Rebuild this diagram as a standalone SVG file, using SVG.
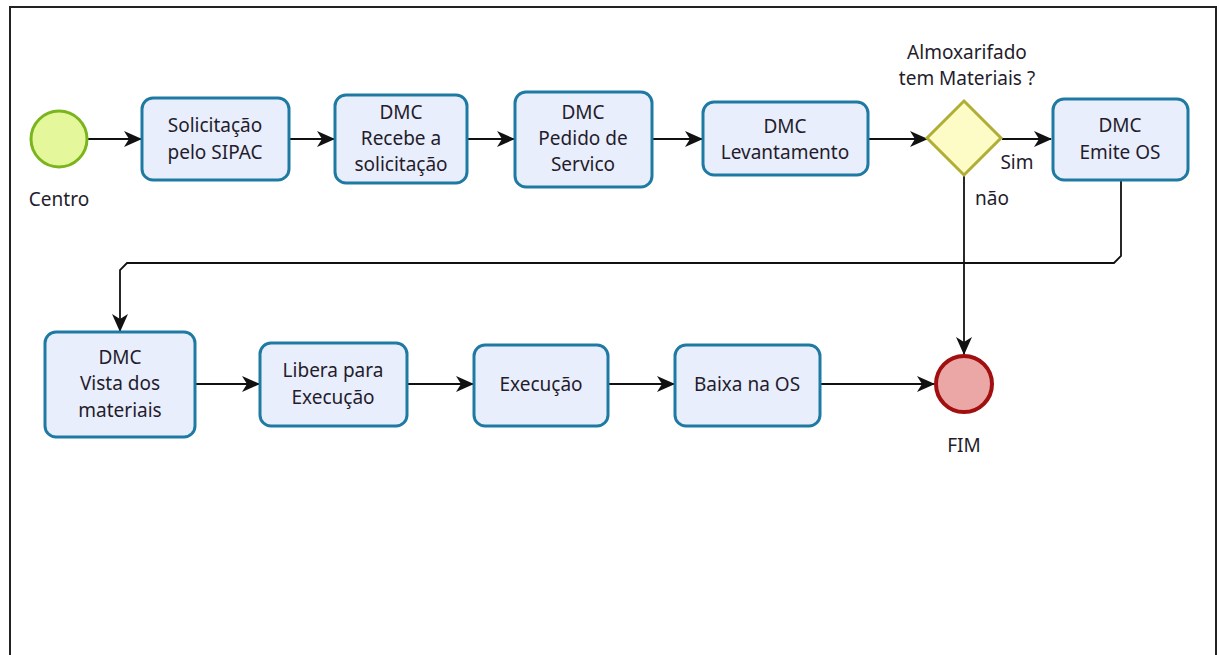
<svg xmlns="http://www.w3.org/2000/svg" width="1219" height="655" viewBox="0 0 1219 655">
  <style>
    .task { fill: #e9eefc; stroke: #1f7aa3; stroke-width: 3; }
    .lbl { font-family: "Noto Sans", "Open Sans", sans-serif; font-size: 19px; fill: #241c2c; text-anchor: middle; }
    .edge { fill: none; stroke: #111; stroke-width: 1.8; }
  </style>
  <defs>
    <marker id="arrow" viewBox="0 0 18 18" refX="17" refY="9" markerWidth="18" markerHeight="18" markerUnits="userSpaceOnUse" orient="auto">
      <path d="M0,1 L18,9 L0,17 L5,9 Z" fill="#111"/>
    </marker>
  </defs>

  <rect x="0" y="0" width="1219" height="655" fill="#fff"/>
  <!-- frame -->
  <path d="M10,660 L10,7 L1216,7 L1216,660" fill="none" stroke="#222" stroke-width="2"/>

  <!-- connectors -->
  <g id="connectors">
    <path class="edge" d="M88,139 L141,139" marker-end="url(#arrow)"/>
    <path class="edge" d="M289,139 L334,139" marker-end="url(#arrow)"/>
    <path class="edge" d="M467,139 L514,139" marker-end="url(#arrow)"/>
    <path class="edge" d="M652,139 L702,139" marker-end="url(#arrow)"/>
    <path class="edge" d="M868,139 L927,139" marker-end="url(#arrow)"/>
    <path class="edge" d="M1002,139 L1051,139" marker-end="url(#arrow)"/>
    <path class="edge" d="M1121,180 L1121,256 L1114,263 L127,263 L120,270 L120,331" marker-end="url(#arrow)"/>
    <path class="edge" d="M964,175 L964,354" marker-end="url(#arrow)"/>
    <path class="edge" d="M195,384 L259,384" marker-end="url(#arrow)"/>
    <path class="edge" d="M407,384 L473,384" marker-end="url(#arrow)"/>
    <path class="edge" d="M608,384 L674,384" marker-end="url(#arrow)"/>
    <path class="edge" d="M820,384 L934,384" marker-end="url(#arrow)"/>
  </g>

  <g id="start">
    <circle cx="59" cy="139" r="28" fill="#e4f79a" stroke="#7ab51d" stroke-width="3"/>
    <text class="lbl" x="59" y="206">Centro</text>
  </g>

  <g id="solicitacao">
    <rect class="task" x="142" y="98" width="147" height="82" rx="11"/>
    <text class="lbl" x="215" y="132">Solicitação</text>
    <text class="lbl" x="215" y="159">pelo SIPAC</text>
  </g>

  <g id="recebe">
    <rect class="task" x="335" y="95" width="132" height="88" rx="11"/>
    <text class="lbl" x="401" y="119">DMC</text>
    <text class="lbl" x="401" y="145">Recebe a</text>
    <text class="lbl" x="401" y="171">solicitação</text>
  </g>

  <g id="pedido">
    <rect class="task" x="515" y="92" width="137" height="95" rx="11"/>
    <text class="lbl" x="583" y="119">DMC</text>
    <text class="lbl" x="583" y="145">Pedido de</text>
    <text class="lbl" x="583" y="171">Servico</text>
  </g>

  <g id="levantamento">
    <rect class="task" x="703" y="102" width="165" height="73" rx="11"/>
    <text class="lbl" x="785" y="133">DMC</text>
    <text class="lbl" x="785" y="159">Levantamento</text>
  </g>

  <g id="gateway">
    <polygon points="964,101 1001,138 964,175 927,138" fill="#fdfbc6" stroke="#b0ae35" stroke-width="3"/>
    <text class="lbl" x="967" y="59">Almoxarifado</text>
    <text class="lbl" x="967" y="85">tem Materiais ?</text>
    <text class="lbl" x="1017" y="169">Sim</text>
    <text class="lbl" x="992" y="205">não</text>
  </g>

  <g id="emite">
    <rect class="task" x="1053" y="99" width="135" height="81" rx="11"/>
    <text class="lbl" x="1120" y="132">DMC</text>
    <text class="lbl" x="1120" y="159">Emite OS</text>
  </g>

  <g id="vista">
    <rect class="task" x="45" y="332" width="150" height="105" rx="11"/>
    <text class="lbl" x="120" y="364">DMC</text>
    <text class="lbl" x="120" y="390">Vista dos</text>
    <text class="lbl" x="120" y="417">materiais</text>
  </g>

  <g id="libera">
    <rect class="task" x="260" y="343" width="147" height="83" rx="11"/>
    <text class="lbl" x="333" y="377">Libera para</text>
    <text class="lbl" x="333" y="404">Execução</text>
  </g>

  <g id="execucao">
    <rect class="task" x="474" y="345" width="134" height="81" rx="11"/>
    <text class="lbl" x="541" y="391">Execução</text>
  </g>

  <g id="baixa">
    <rect class="task" x="675" y="345" width="145" height="81" rx="11"/>
    <text class="lbl" x="747" y="391">Baixa na OS</text>
  </g>

  <g id="fim">
    <circle cx="964" cy="384" r="28" fill="#eba6a6" stroke="#a10f0f" stroke-width="4"/>
    <text class="lbl" x="964" y="452">FIM</text>
  </g>
</svg>
